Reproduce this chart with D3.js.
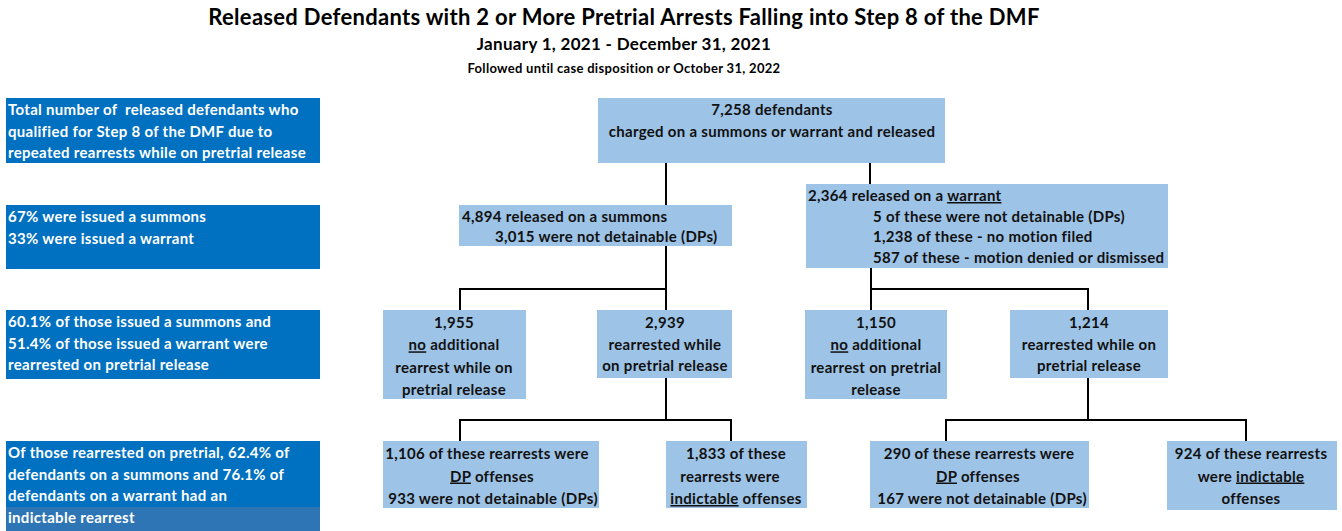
<!DOCTYPE html>
<html>
<head>
<meta charset="utf-8">
<script src="https://cdn.jsdelivr.net/npm/d3@7"></script>
<style>
  body { margin: 0; background: #fff; }
  text { font-family: Lato, "DejaVu Sans", sans-serif; font-weight: 700; white-space: pre; letter-spacing: 0.3px; }
</style>
</head>
<body>
<div id="chart"></div>
<script>
const WIDTH = 1342, HEIGHT = 531;

// heading text
const titleLines = [
  "Released Defendants with 2 or More Pretrial Arrests Falling into Step 8 of the DMF",
  "January 1, 2021 - December 31, 2021",
  "Followed until case disposition or October 31, 2022"
];

// dark blue notes on the left, one list of lines per step
const stepNotes = [
  ["Total number of  released defendants who", "qualified for Step 8 of the DMF due to", "repeated rearrests while on pretrial release"],
  ["67% were issued a summons", "33% were issued a warrant"],
  ["60.1% of those issued a summons and", "51.4% of those issued a warrant were", "rearrested on pretrial release"],
  ["Of those rearrested on pretrial, 62.4% of", "defendants on a summons and 76.1% of", "defendants on a warrant had an", "indictable rearrest"]
];

// tree nodes
const nodeIds     = ["root", "summons", "warrant", "sNone", "sRearr", "wNone", "wRearr", "sDP", "sInd", "wDP", "wInd"];
const nodeParents = [null, "root", "root", "summons", "summons", "warrant", "warrant", "sRearr", "sRearr", "wRearr", "wRearr"];
const nodeCounts  = [7258, 4894, 2364, 1955, 2939, 1150, 1214, 1106, 1833, 290, 924];
const nodeSubCounts = [[], [3015], [5, 1238, 587], [], [], [], [], [933], [], [167], []];
// {n} = node count, {a} {b} {c} = sub counts, _x_ = underlined
const nodeLines = [
  ["{n} defendants", "charged on a summons or warrant and released"],
  ["{n} released on a summons", "{a} were not detainable (DPs)"],
  ["{n} released on a _warrant_", "{a} of these were not detainable (DPs)", "{b} of these - no motion filed", "{c} of these - motion denied or dismissed"],
  ["{n}", "_no_ additional", "rearrest while on", "pretrial release"],
  ["{n}", "rearrested while", "on pretrial release"],
  ["{n}", "_no_ additional", "rearrest on pretrial", "release"],
  ["{n}", "rearrested while on", "pretrial release"],
  ["{n} of these rearrests were", "_DP_ offenses", "{a} were not detainable (DPs)"],
  ["{n} of these", "rearrests were", "_indictable_ offenses"],
  ["{n} of these rearrests were", "_DP_ offenses", "{a} were not detainable (DPs)"],
  ["{n} of these rearrests", "were _indictable_", "offenses"]
];

// ---- layout (positions only) ----
const stepBoxes = [
  { y: 98, h: 65 }, { y: 205, h: 64 }, { y: 310, h: 69 }, { y: 441, h: 90, bandY: 507 }
];
const STEP_X = 6, STEP_W = 314;
const FONT = 15;

// box, text anchor, line x positions, first line baseline, line step,
// port = where the connector enters from above, exit / bar = outgoing connector
const boxLayout = {
  root:    { x: 598, y: 98,  w: 347, h: 65, anchor: "middle", tx: [772], ty: 115, dy: 22 },
  summons: { x: 459, y: 205, w: 273, h: 41, anchor: "start", tx: [462, 495], ty: 222, dy: 20, port: 666, exit: 666, bar: 289 },
  warrant: { x: 806, y: 184, w: 362, h: 84, anchor: "start", tx: [808, 873, 873, 873], ty: 201, dy: 20.7, port: 870, exit: 871, bar: 289 },
  sNone:   { x: 383, y: 310, w: 143, h: 89, anchor: "middle", tx: [454], ty: 328, dy: 22.3, port: 460 },
  sRearr:  { x: 597, y: 310, w: 135, h: 68, anchor: "middle", tx: [665], ty: 328, dy: 21.7, port: 666, exit: 666, bar: 420 },
  wNone:   { x: 805, y: 310, w: 142, h: 89, anchor: "middle", tx: [876], ty: 328, dy: 22.3, port: 871 },
  wRearr:  { x: 1010, y: 310, w: 158, h: 68, anchor: "middle", tx: [1089], ty: 328, dy: 21.7, port: 1088, exit: 1088, bar: 420 },
  sDP:     { x: 383, y: 441, w: 216, h: 67, anchor: "middle", tx: [487, 492, 493], ty: 459, dy: 22.5, port: 460 },
  sInd:    { x: 666, y: 441, w: 141, h: 67, anchor: "middle", tx: [736, 730, 736], ty: 459, dy: 22.5, port: 731 },
  wDP:     { x: 870, y: 441, w: 219, h: 67, anchor: "middle", tx: [979, 978, 982], ty: 459, dy: 22.5, port: 946 },
  wInd:    { x: 1167, y: 441, w: 170, h: 69, anchor: "middle", tx: [1251], ty: 459, dy: 22.5, port: 1246 }
};

const fmt = d3.format(",");

const svg = d3.select("#chart")
  .append("svg")
    .attr("width", WIDTH)
    .attr("height", HEIGHT);

// heading
const titleSizes = [22, 17, 13];
const titleY = [25, 50, 73];
svg.selectAll("text.title")
  .data(titleLines)
  .enter().append("text")
    .attr("class", "title")
    .attr("x", 624)
    .attr("y", (d, i) => titleY[i])
    .attr("text-anchor", "middle")
    .attr("font-size", (d, i) => titleSizes[i])
    .attr("fill", "#000")
    .text(d => d);

// left notes
const steps = svg.selectAll("g.step")
  .data(stepNotes)
  .enter().append("g")
    .attr("class", "step");

steps.append("rect")
  .attr("x", STEP_X)
  .attr("y", (d, i) => stepBoxes[i].y)
  .attr("width", STEP_W)
  .attr("height", (d, i) => stepBoxes[i].h)
  .attr("fill", "#0070C0");

steps.filter((d, i) => stepBoxes[i].bandY)
  .append("rect")
  .attr("x", STEP_X)
  .attr("y", stepBoxes[3].bandY)
  .attr("width", STEP_W)
  .attr("height", stepBoxes[3].y + stepBoxes[3].h - stepBoxes[3].bandY)
  .attr("fill", "#2E75B6");

steps.each(function(lines, i) {
  d3.select(this).selectAll("text")
    .data(lines)
    .enter().append("text")
      .attr("x", STEP_X + 2)
      .attr("y", (d, j) => stepBoxes[i].y + 17 + j * 21.7)
      .attr("font-size", FONT)
      .attr("fill", "#fff")
      .text(d => d);
});

// tree
const table = nodeIds.map((id, i) => ({
  id, parent: nodeParents[i], count: nodeCounts[i], sub: nodeSubCounts[i], lines: nodeLines[i]
}));
const root = d3.stratify().id(d => d.id).parentId(d => d.parent)(table);

// connectors first so the boxes cover the ends
svg.append("g")
  .selectAll("path")
  .data(root.links())
  .enter().append("path")
    .attr("fill", "none")
    .attr("stroke", "#000")
    .attr("stroke-width", 2)
    .attr("d", l => {
      const p = boxLayout[l.source.id], c = boxLayout[l.target.id];
      if (p.exit == null) return `M${c.port},${p.y + p.h}V${c.y}`;
      return `M${p.exit},${p.y + p.h}V${p.bar}H${c.port}V${c.y}`;
    });

function fillLine(str, d) {
  return str.replace("{n}", fmt(d.count))
    .replace("{a}", fmt(d.sub[0] || 0))
    .replace("{b}", fmt(d.sub[1] || 0))
    .replace("{c}", fmt(d.sub[2] || 0));
}

const nodes = svg.append("g")
  .selectAll("g")
  .data(root.descendants())
  .enter().append("g");

nodes.append("rect")
  .attr("x", d => boxLayout[d.id].x)
  .attr("y", d => boxLayout[d.id].y)
  .attr("width", d => boxLayout[d.id].w)
  .attr("height", d => boxLayout[d.id].h)
  .attr("fill", "#9DC3E6");

nodes.each(function(d) {
  const b = boxLayout[d.id];
  const txt = d3.select(this).selectAll("text")
    .data(d.data.lines.map(s => fillLine(s, d.data)))
    .enter().append("text")
      .attr("x", (s, j) => b.tx[Math.min(j, b.tx.length - 1)])
      .attr("y", (s, j) => b.ty + j * b.dy)
      .attr("text-anchor", b.anchor)
      .attr("font-size", FONT)
      .attr("fill", "#111");
  txt.each(function(s) {
    const parts = s.split("_");
    d3.select(this).selectAll("tspan")
      .data(parts)
      .enter().append("tspan")
        .style("text-decoration", (p, k) => k % 2 ? "underline" : null)
        .text(p => p);
  });
});
</script>
</body>
</html>
